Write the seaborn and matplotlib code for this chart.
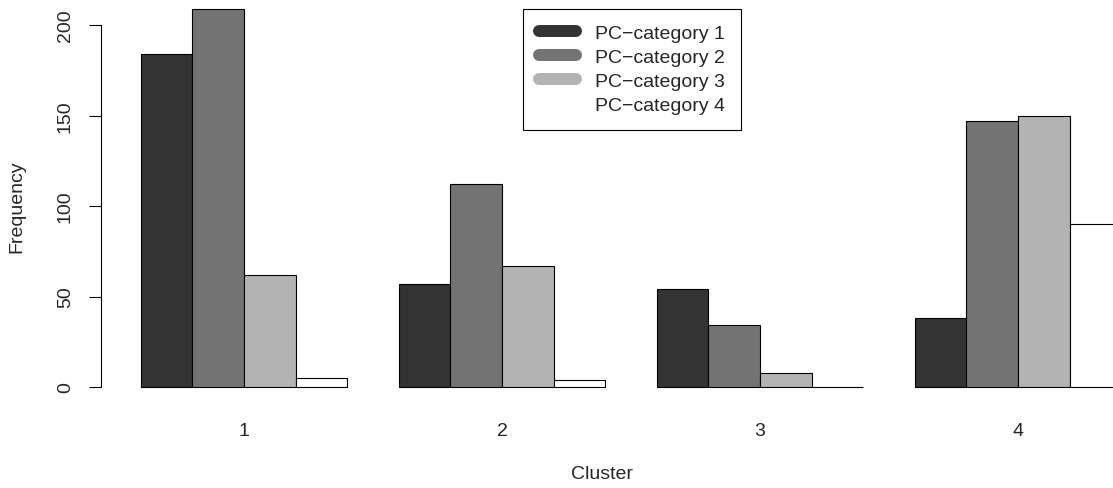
import pandas as pd
import seaborn as sns
import matplotlib.pyplot as plt
from matplotlib.lines import Line2D

# values
clusters = ['1', '2', '3', '4']
categories = ['PC\u2212category 1', 'PC\u2212category 2', 'PC\u2212category 3', 'PC\u2212category 4']
cat1 = [184, 57, 54, 38]
cat2 = [209, 112, 34, 147]
cat3 = [62, 67, 8, 150]
cat4 = [5, 4, 0, 90]
colors = ['#333333', '#737373', '#b3b3b3', '#ffffff']

rows = []
for cat, vals in zip(categories, [cat1, cat2, cat3, cat4]):
    for cl, v in zip(clusters, vals):
        rows.append({'Cluster': cl, 'cat': cat, 'Frequency': v})
df = pd.DataFrame(rows)

sns.set_style('white')
plt.rcParams['font.family'] = ['Liberation Sans', 'DejaVu Sans']
plt.rcParams['font.size'] = 14

W, H = 1113, 489
fig = plt.figure(figsize=(W / 100, H / 100), dpi=100)
ax = fig.add_axes([101 / W, (H - 388) / H, (W - 101) / W, 388 / H])

sns.barplot(data=df, x='Cluster', y='Frequency', hue='cat', order=clusters,
            hue_order=categories, palette=colors, saturation=1, width=0.8,
            edgecolor='black', linewidth=0.8, legend=False, ax=ax)
for p in ax.patches:
    p.set_clip_on(False)

ax.set_xlim(-0.554, 3.368)
ax.set_ylim(0, 388 / 1.81)

for s in ['top', 'right', 'bottom']:
    ax.spines[s].set_visible(False)
ax.spines['left'].set_bounds(0, 200)
ax.spines['left'].set_linewidth(0.8)
ax.spines['left'].set_color('black')

ax.set_yticks([0, 50, 100, 150, 200])
ax.tick_params(axis='y', left=True, length=8.6, width=0.8, color='black', pad=11)
for lab in ax.get_yticklabels():
    lab.set_rotation(90)
    lab.set_va('center')
ax.tick_params(axis='x', bottom=False, length=0, pad=25)

ax.set_xlabel('')
ax.set_ylabel('')
fig.text(602 / W, 1 - 475 / H, 'Cluster', ha='center', va='center', fontsize=14)
fig.text(17 / W, 1 - 207 / H, 'Frequency', ha='center', va='center',
         rotation=90, fontsize=14)

handles = [Line2D([0], [0], color=c, lw=8.6, solid_capstyle='round') for c in colors]
leg = fig.legend(handles, categories, loc='upper left',
                 bbox_to_anchor=(523 / W, 1 - 10 / H), bbox_transform=fig.transFigure,
                 borderaxespad=0, fancybox=False, framealpha=1, edgecolor='black',
                 fontsize=14, labelspacing=0.33, handlelength=1.9, handletextpad=1.0,
                 borderpad=0.8)
leg.get_frame().set_linewidth(0.8)

fig.savefig('out.png', dpi=100)
